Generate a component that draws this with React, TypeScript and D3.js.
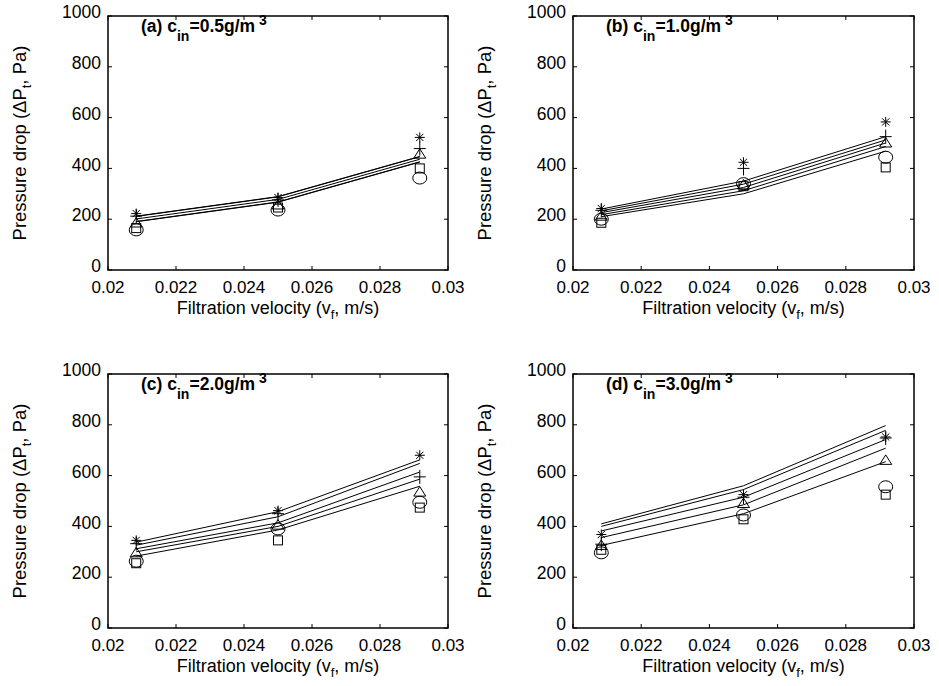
import React from 'react';
import * as d3 from 'd3';

// filtration velocities (m/s) at which the runs were made
const velocities = [0.02083, 0.025, 0.02917];

const xTicks = [0.02, 0.022, 0.024, 0.026, 0.028, 0.03];
const xTickLabels = ['0.02', '0.022', '0.024', '0.026', '0.028', '0.03'];
const yTicks = [0, 200, 400, 600, 800, 1000];

const panelLetters = ['(a)', '(b)', '(c)', '(d)'];
const concentrations = ['0.5', '1.0', '2.0', '3.0'];

// marker order: star, plus, triangle, square, circle
const markerKinds = ['star', 'plus', 'triangle', 'square', 'circle'];

// measured pressure drop (Pa), one row per marker kind
const measuredA = [
  [222, 285, 522],
  [212, 276, 478],
  [185, 256, 456],
  [165, 246, 400],
  [158, 236, 362],
];
const measuredB = [
  [242, 424, 583],
  [235, 400, 525],
  [212, 335, 500],
  [186, 330, 404],
  [200, 340, 444],
];
const measuredC = [
  [345, 462, 680],
  [332, 450, 595],
  [296, 405, 535],
  [255, 345, 474],
  [263, 390, 495],
];
const measuredD = [
  [368, 525, 752],
  [330, 515, 748],
  [325, 490, 660],
  [308, 428, 525],
  [296, 445, 556],
];

// model curves (Pa), five lines per panel
const modelA = [
  [212, 289, 447],
  [211, 288, 446],
  [201, 278, 436],
  [191, 268, 426],
  [190, 267, 425],
];
const modelB = [
  [240, 350, 525],
  [233, 338, 512],
  [226, 325, 500],
  [218, 312, 486],
  [210, 300, 468],
];
const modelC = [
  [338, 458, 662],
  [326, 438, 648],
  [312, 414, 614],
  [300, 400, 586],
  [283, 386, 558],
];
const modelD = [
  [410, 560, 797],
  [400, 545, 778],
  [382, 515, 742],
  [356, 485, 708],
  [325, 450, 655],
];

const measuredSets = [measuredA, measuredB, measuredC, measuredD];
const modelSets = [modelA, modelB, modelC, modelD];

const FONT = '"Liberation Sans", Arial, Helvetica, sans-serif';

function Marker({ kind, x, y }: { kind: string; x: number; y: number }) {
  const s = 5;
  const common = { fill: 'none', stroke: '#000', strokeWidth: 1 };
  if (kind === 'star') {
    const d = 0.72 * s;
    return (
      <path
        {...common}
        d={`M${x - s},${y}H${x + s}M${x},${y - s}V${y + s}M${x - d},${y - d}L${x + d},${y + d}M${x - d},${y + d}L${x + d},${y - d}`}
      />
    );
  }
  if (kind === 'plus') {
    return <path {...common} d={`M${x - 6},${y}H${x + 6}M${x},${y - 7}V${y + 7}`} />;
  }
  if (kind === 'triangle') {
    return <path {...common} d={`M${x},${y - 5.5}L${x + 6},${y + 4}L${x - 6},${y + 4}Z`} />;
  }
  if (kind === 'square') {
    return <rect {...common} x={x - 4.5} y={y - 4.5} width={9} height={9} />;
  }
  return <ellipse {...common} cx={x} cy={y} rx={7} ry={6} />;
}

function Panel({ index, left, top, width, height }: { index: number; left: number; top: number; width: number; height: number }) {
  const x = d3.scaleLinear().domain([0.02, 0.03]).range([0, width]);
  const y = d3.scaleLinear().domain([0, 1000]).range([height, 0]);

  const line = d3
    .line<number>()
    .x((d, i) => x(velocities[i]))
    .y((d) => y(d));

  const measured = measuredSets[index];
  const model = modelSets[index];
  const tick = 4;

  return (
    <g transform={`translate(${left},${top})`} fontFamily={FONT}>
      {/* model lines */}
      {model.map((row, i) => (
        <path key={'m' + i} d={line(row) || ''} fill="none" stroke="#000" strokeWidth={1} />
      ))}

      {/* measured points */}
      {measured.map((row, k) =>
        row.map((v, j) => (
          <Marker key={'p' + k + '-' + j} kind={markerKinds[k]} x={x(velocities[j])} y={y(v)} />
        ))
      )}

      {/* axis box */}
      <rect x={0} y={0} width={width} height={height} fill="none" stroke="#000" strokeWidth={1.5} />

      {/* x ticks, bottom and top, pointing in */}
      {xTicks.map((t, i) => (
        <g key={'xt' + i}>
          <line x1={x(t)} x2={x(t)} y1={height} y2={height - tick} stroke="#000" />
          <line x1={x(t)} x2={x(t)} y1={0} y2={tick} stroke="#000" />
          <text x={x(t)} y={height + 23} textAnchor="middle" fontSize={17}>
            {xTickLabels[i]}
          </text>
        </g>
      ))}

      {/* y ticks, left and right */}
      {yTicks.map((t, i) => (
        <g key={'yt' + i}>
          <line x1={0} x2={tick} y1={y(t)} y2={y(t)} stroke="#000" />
          <line x1={width} x2={width - tick} y1={y(t)} y2={y(t)} stroke="#000" />
          <text x={-7} y={y(t) - 4} dy="0.35em" textAnchor="end" fontSize={17.5}>
            {t}
          </text>
        </g>
      ))}

      {/* panel title */}
      <text x={33} y={16} fontSize={17.5} fontWeight="bold">
        {panelLetters[index] + ' c'}
        <tspan fontSize={14} dy={9}>in</tspan>
        <tspan dy={-9}>{'=' + concentrations[index] + 'g/m'}</tspan>
        <tspan fontSize={14} dy={-7}> 3</tspan>
      </text>

      {/* axis titles */}
      <text x={width / 2} y={height + 44} textAnchor="middle" fontSize={18}>
        Filtration velocity (v
        <tspan fontSize={13} dy={5}>f</tspan>
        <tspan dy={-5}>, m/s)</tspan>
      </text>
      <text transform={`translate(${-82},${height / 2}) rotate(-90)`} textAnchor="middle" fontSize={18.5}>
        Pressure drop (ΔP
        <tspan fontSize={13} dy={5}>t</tspan>
        <tspan dy={-5}>, Pa)</tspan>
      </text>
    </g>
  );
}

export default function App() {
  const panels = [
    { left: 108, top: 16, width: 340, height: 254 },
    { left: 573, top: 16, width: 341, height: 254 },
    { left: 108, top: 374, width: 340, height: 254 },
    { left: 573, top: 374, width: 341, height: 254 },
  ];
  return (
    <svg width={939} height={686} style={{ position: 'absolute', left: 0, top: 0, background: '#fff' }}>
      <rect width={939} height={686} fill="#fff" />
      {panels.map((p, i) => (
        <Panel key={i} index={i} {...p} />
      ))}
    </svg>
  );
}
